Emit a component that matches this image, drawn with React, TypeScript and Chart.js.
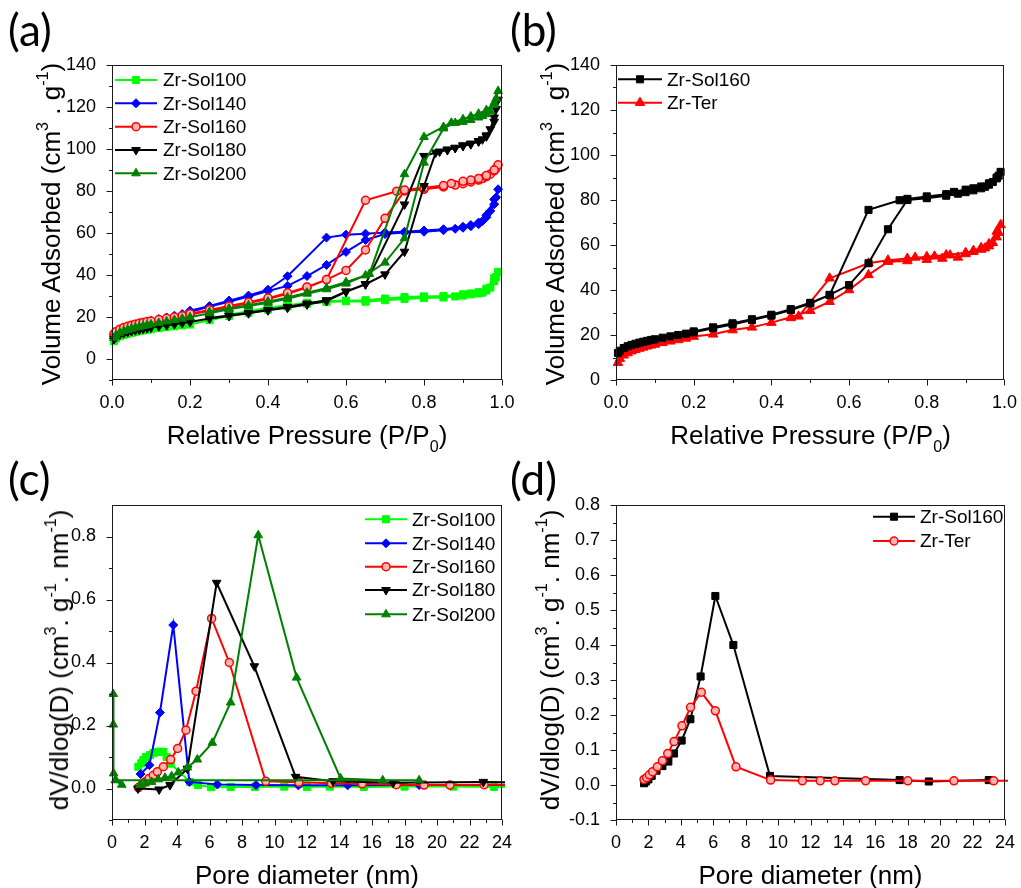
import React, { useEffect, useRef } from 'react';
import { Chart, registerables } from 'chart.js';
import { drawPoint } from 'chart.js/helpers';

Chart.register(...registerables);

const FONT = '"Liberation Sans", Arial, Helvetica, sans-serif';

// ---------- Panels (a)/(b): N2 isotherms, relative pressure ----------
const lowP = [0.005, 0.01, 0.02, 0.03, 0.04, 0.05, 0.06, 0.07, 0.08, 0.09, 0.1, 0.12, 0.14, 0.16, 0.18, 0.2];
const midP = [0.25, 0.3, 0.35, 0.4, 0.45, 0.5, 0.55, 0.6, 0.65, 0.7, 0.75, 0.8, 0.85, 0.88, 0.9, 0.92, 0.94, 0.95, 0.96, 0.97, 0.98, 0.985, 0.99];

const sol100LowV = [8.5, 9.8, 10.8, 11.5, 12.0, 12.5, 12.9, 13.3, 13.6, 13.9, 14.2, 14.7, 15.2, 15.6, 16.0, 16.4];
const sol100MidV = [18.5, 20.5, 22.0, 23.5, 25.0, 26.3, 27.2, 27.5, 27.3, 28.0, 28.6, 29.0, 29.3, 29.8, 30.2, 30.8, 31.2, 31.6, 32.6, 34.0, 37.0, 39.0, 41.5];
const sol100DesP = [0.98, 0.96, 0.94, 0.92, 0.9, 0.85, 0.8, 0.75, 0.7, 0.65, 0.6, 0.55, 0.5, 0.45, 0.4, 0.35, 0.3];
const sol100DesV = [38.5, 33.5, 31.8, 31.2, 30.8, 30.0, 29.8, 29.5, 28.8, 28.0, 27.8, 27.5, 26.8, 25.6, 24.4, 22.8, 21.2];

const sol140LowV = [11.5, 12.8, 14.0, 14.8, 15.4, 16.0, 16.5, 17.0, 17.4, 17.8, 18.2, 19.0, 19.8, 20.6, 21.4, 22.4];
const sol140MidV = [25.0, 27.3, 29.7, 32.4, 34.8, 39.5, 44.8, 51.0, 56.7, 59.5, 60.2, 60.6, 61.3, 62.0, 62.5, 63.2, 64.2, 65.7, 67.5, 70.5, 73.7, 77.0, 80.8];
const sol140DesP = [0.98, 0.96, 0.94, 0.92, 0.9, 0.85, 0.8, 0.75, 0.7, 0.65, 0.6, 0.55, 0.45, 0.4, 0.35, 0.3, 0.25, 0.2];
const sol140DesV = [76.0, 68.5, 65.0, 63.8, 63.0, 61.8, 61.2, 60.6, 60.2, 59.7, 59.2, 57.8, 39.4, 33.0, 30.2, 27.8, 25.2, 23.0];

const sol160LowV = [12.0, 13.0, 14.2, 15.0, 15.6, 16.1, 16.6, 17.0, 17.4, 17.8, 18.1, 18.8, 19.4, 20.0, 20.6, 21.2];
const sol160MidV = [23.0, 24.7, 26.7, 28.6, 31.1, 34.0, 37.8, 42.2, 51.9, 67.0, 80.0, 80.8, 81.9, 82.8, 83.5, 84.3, 85.2, 85.9, 86.8, 88.0, 89.6, 90.8, 92.5];
const sol160DesP = [0.98, 0.96, 0.94, 0.92, 0.9, 0.87, 0.85, 0.8, 0.75, 0.73, 0.65, 0.55, 0.5, 0.45, 0.4, 0.35, 0.3, 0.25, 0.2];
const sol160DesV = [90.0, 87.4, 86.0, 85.2, 84.6, 83.6, 82.6, 81.6, 80.5, 79.9, 75.6, 37.8, 34.3, 31.5, 29.0, 27.0, 25.2, 23.4, 21.6];

const sol180LowV = [9.5, 10.5, 11.6, 12.3, 12.8, 13.3, 13.7, 14.0, 14.4, 14.7, 15.0, 15.6, 16.1, 16.6, 17.1, 17.6];
const sol180MidP = [0.25, 0.3, 0.35, 0.4, 0.45, 0.5, 0.55, 0.6, 0.65, 0.7, 0.75, 0.8, 0.83, 0.86, 0.88, 0.9, 0.92, 0.94, 0.95, 0.96, 0.97, 0.98, 0.985, 0.99];
const sol180MidV = [19.3, 20.5, 21.8, 23.2, 24.4, 26.0, 27.6, 32.0, 35.6, 40.3, 51.1, 82.4, 98.3, 99.5, 100.5, 101.4, 102.3, 103.6, 104.6, 106.5, 109.4, 115.0, 119.0, 123.5];
const sol180DesP = [0.98, 0.96, 0.94, 0.92, 0.9, 0.88, 0.86, 0.84, 0.8, 0.75, 0.65, 0.6, 0.55, 0.5, 0.45, 0.4, 0.35, 0.3, 0.25];
const sol180DesV = [113.0, 106.0, 103.8, 102.6, 101.8, 100.6, 99.8, 98.8, 96.7, 73.6, 35.6, 32.2, 28.0, 26.4, 24.8, 23.4, 22.0, 20.7, 19.5];

const sol200LowV = [10.0, 11.2, 12.5, 13.3, 13.9, 14.4, 14.9, 15.3, 15.7, 16.1, 16.5, 17.2, 17.9, 18.6, 19.2, 19.9];
const sol200MidV = [21.8, 23.7, 25.2, 26.8, 28.7, 31.1, 33.2, 35.9, 39.8, 45.9, 57.5, 93.5, 109.8, 112.4, 112.9, 113.8, 115.0, 115.7, 116.6, 118.0, 121.0, 124.0, 127.6];
const sol200DesP = [0.98, 0.96, 0.94, 0.92, 0.9, 0.87, 0.85, 0.8, 0.75, 0.66, 0.6, 0.55, 0.5, 0.45, 0.4, 0.35, 0.3, 0.25];
const sol200DesV = [122.0, 118.5, 116.8, 115.5, 114.2, 112.5, 110.5, 105.7, 88.0, 40.5, 36.6, 33.8, 31.6, 29.3, 27.3, 25.6, 24.0, 22.4];

const terLowV = [7.7, 9.5, 11.0, 12.0, 12.8, 13.4, 14.0, 14.5, 15.0, 15.4, 15.8, 16.5, 17.2, 17.8, 18.5, 19.3];
const terMidP = [0.25, 0.3, 0.35, 0.4, 0.45, 0.5, 0.55, 0.6, 0.65, 0.7, 0.75, 0.77, 0.8, 0.82, 0.84, 0.86, 0.88, 0.9, 0.92, 0.94, 0.95, 0.96, 0.97, 0.98, 0.985, 0.99];
const terMidV = [20.3, 22.2, 23.4, 25.5, 27.9, 30.8, 34.8, 40.0, 46.7, 52.6, 52.9, 54.5, 53.5, 55.0, 54.0, 55.5, 54.5, 56.0, 57.0, 58.0, 58.6, 59.5, 61.0, 63.5, 65.5, 68.9];
const terDesP = [0.98, 0.96, 0.94, 0.92, 0.9, 0.85, 0.8, 0.75, 0.7, 0.65, 0.55, 0.47, 0.45];
const terDesV = [66.0, 60.5, 58.8, 57.5, 56.6, 55.6, 54.8, 54.0, 53.2, 51.9, 45.2, 28.3, 27.6];

// ---------- Panels (c)/(d): pore size distributions ----------
const sol100D = [1.62, 1.8, 1.93, 2.1, 2.34, 2.55, 2.75, 2.95, 3.16, 3.36, 3.61, 4.8, 5.3, 6.1, 7.3, 8.8, 10.6, 12.0, 13.4, 15.5, 18.0, 21.0, 23.5, 24.6];
const sol100PSD = [0.069, 0.08, 0.09, 0.1, 0.106, 0.112, 0.116, 0.117, 0.116, 0.1, 0.079, 0.021, 0.011, 0.004, 0.005, 0.005, 0.006, 0.005, 0.006, 0.005, 0.006, 0.006, 0.005, 0.005];
const sol140D = [1.76, 2.3, 2.95, 3.77, 4.76, 6.48, 8.86, 11.47, 14.5, 18.9, 24.6];
const sol140PSD = [0.046, 0.074, 0.241, 0.519, 0.021, 0.013, 0.011, 0.01, 0.01, 0.011, 0.011];
const sol160cD = [1.62, 1.83, 2.03, 2.28, 2.54, 2.79, 3.16, 3.61, 4.04, 4.55, 5.17, 6.13, 7.22, 9.46, 11.5, 13.5, 15.4, 17.5, 19.2, 20.8, 22.9, 24.6];
const sol160cPSD = [0.003, 0.011, 0.021, 0.032, 0.042, 0.053, 0.069, 0.092, 0.127, 0.185, 0.309, 0.54, 0.40, 0.023, 0.02, 0.017, 0.015, 0.012, 0.011, 0.011, 0.012, 0.012];
const sol180D = [1.6, 2.9, 3.57, 4.64, 6.44, 8.76, 11.3, 13.6, 17.3, 22.85, 24.6];
const sol180PSD = [0.0, -0.003, 0.011, 0.063, 0.653, 0.388, 0.037, 0.023, 0.018, 0.021, 0.02];
const sol200D = [0.08, 0.08, 0.1, 0.6, 0.2, 18.9, 16.66, 14.07, 11.36, 9.0, 7.3, 6.17, 5.25, 4.64, 4.08, 3.67, 3.26, 2.85, 2.44, 2.03, 1.72];
const sol200PSD = [0.30, 0.203, 0.048, 0.012, 0.026, 0.026, 0.026, 0.032, 0.352, 0.804, 0.273, 0.145, 0.092, 0.067, 0.051, 0.039, 0.034, 0.029, 0.021, 0.016, 0.011];

const sol160dD = [1.73, 1.85, 2.0, 2.2, 2.5, 2.86, 3.23, 3.58, 4.05, 4.59, 5.22, 6.13, 7.24, 9.5, 17.5, 19.3, 23.0];
const sol160dPSD = [0.005, 0.01, 0.016, 0.026, 0.041, 0.054, 0.067, 0.09, 0.127, 0.188, 0.31, 0.54, 0.40, 0.026, 0.014, 0.01, 0.014];
const terD = [1.73, 1.89, 2.06, 2.26, 2.55, 2.86, 3.19, 3.58, 4.07, 4.6, 5.26, 6.13, 7.4, 9.54, 11.5, 12.6, 13.5, 15.4, 18.0, 20.85, 23.3, 24.6];
const terPSD = [0.016, 0.021, 0.029, 0.038, 0.052, 0.069, 0.09, 0.124, 0.169, 0.222, 0.265, 0.212, 0.052, 0.014, 0.012, 0.012, 0.012, 0.012, 0.012, 0.012, 0.012, 0.012];

// ---------- tick values ----------
const pTicks = [0, 0.2, 0.4, 0.6, 0.8, 1.0];
const pMinor = [0.1, 0.3, 0.5, 0.7, 0.9];
const vTicksA = [0, 20, 40, 60, 80, 100, 120, 140];
const vMinorA = [-10, 10, 30, 50, 70, 90, 110, 130];
const vTicksB = [0, 20, 40, 60, 80, 100, 120, 140];
const vMinorB = [10, 30, 50, 70, 90, 110, 130];
const dTicks = [0, 2, 4, 6, 8, 10, 12, 14, 16, 18, 20, 22, 24];
const dMinor = [1, 3, 5, 7, 9, 11, 13, 15, 17, 19, 21, 23];
const psdTicksC = [0, 0.2, 0.4, 0.6, 0.8];
const psdMinorC = [-0.1, 0.1, 0.3, 0.5, 0.7];
const psdTicksD = [-0.1, 0, 0.1, 0.2, 0.3, 0.4, 0.5, 0.6, 0.7, 0.8];
const psdMinorD = [-0.05, 0.05, 0.15, 0.25, 0.35, 0.45, 0.55, 0.65, 0.75];

// ---------- styles ----------
type Sty = { color: string; fill: string; point: string; r: number; rot: number; bw: number };
const S100: Sty = { color: '#00ff00', fill: '#00ff00', point: 'rect', r: 5, rot: 0, bw: 1 };
const S140: Sty = { color: '#0000ff', fill: '#0000ff', point: 'rectRot', r: 4.5, rot: 0, bw: 1 };
const S160: Sty = { color: '#ff0000', fill: '#ffb4b4', point: 'circle', r: 4, rot: 0, bw: 1.5 };
const S180: Sty = { color: '#000000', fill: '#000000', point: 'triangle', r: 5, rot: 180, bw: 1 };
const S200: Sty = { color: '#008000', fill: '#008000', point: 'triangle', r: 5, rot: 0, bw: 1 };
const SB160: Sty = { color: '#000000', fill: '#000000', point: 'rect', r: 5, rot: 0, bw: 1 };
const SBTer: Sty = { color: '#ff0000', fill: '#ff0000', point: 'triangle', r: 5.5, rot: 0, bw: 1 };

function zip(xs: number[], ys: number[]) {
  const out: { x: number; y: number }[] = [];
  const n = Math.min(xs.length, ys.length);
  for (let i = 0; i < n; i++) out.push({ x: xs[i], y: ys[i] });
  return out;
}

function ds(label: string, pts: { x: number; y: number }[], s: Sty, order: number) {
  return {
    label,
    data: pts,
    showLine: true,
    borderColor: s.color,
    backgroundColor: s.fill,
    borderWidth: 2,
    pointStyle: s.point,
    pointRadius: s.r,
    pointRotation: s.rot,
    pointBackgroundColor: s.fill,
    pointBorderColor: s.color,
    pointBorderWidth: s.bw,
    order,
    clip: 3,
  };
}

const iso = (lowV: number[], mp: number[], mv: number[], dp: number[], dv: number[]) => [
  ...zip(lowP, lowV),
  ...zip(mp, mv),
  ...zip(dp, dv),
];

type Spec = {
  box: { x: number; y: number; w: number; h: number };
  area: { l: number; t: number; r: number; b: number };
  xr: [number, number];
  yr: [number, number];
  xMajor: number[];
  xMinor: number[];
  yMajor: number[];
  yMinor: number[];
  xFmt: (v: number) => string;
  yFmt: (v: number) => string;
  datasets: any[];
  legend: { x0: number; x1: number; tx: number; rows: number[] };
};

const f1 = (v: number) => Number(v).toFixed(1);
const f0 = (v: number) => String(Math.round(Number(v)));

const SPECS: Spec[] = [
  {
    box: { x: 0, y: 0, w: 530, h: 430 },
    area: { l: 112, t: 65, r: 502, b: 380 },
    xr: [0, 1],
    yr: [-10, 140],
    xMajor: pTicks, xMinor: pMinor, yMajor: vTicksA, yMinor: vMinorA,
    xFmt: f1, yFmt: f0,
    datasets: [
      ds('Zr-Sol100', iso(sol100LowV, midP, sol100MidV, sol100DesP, sol100DesV), S100, 4),
      ds('Zr-Sol140', iso(sol140LowV, midP, sol140MidV, sol140DesP, sol140DesV), S140, 3),
      ds('Zr-Sol160', iso(sol160LowV, midP, sol160MidV, sol160DesP, sol160DesV), S160, 2),
      ds('Zr-Sol180', iso(sol180LowV, sol180MidP, sol180MidV, sol180DesP, sol180DesV), S180, 1),
      ds('Zr-Sol200', iso(sol200LowV, midP, sol200MidV, sol200DesP, sol200DesV), S200, 0),
    ],
    legend: { x0: 115, x1: 157, tx: 163, rows: [80, 103.3, 126.7, 150, 173.3] },
  },
  {
    box: { x: 520, y: 0, w: 501, h: 430 },
    area: { l: 616, t: 65, r: 1005, b: 380 },
    xr: [0, 1],
    yr: [0, 140],
    xMajor: pTicks, xMinor: pMinor, yMajor: vTicksB, yMinor: vMinorB,
    xFmt: f1, yFmt: f0,
    datasets: [
      ds('Zr-Sol160', iso(sol160LowV, midP, sol160MidV, sol160DesP, sol160DesV), SB160, 0),
      ds('Zr-Ter', iso(terLowV, terMidP, terMidV, terDesP, terDesV), SBTer, 1),
    ],
    legend: { x0: 618, x1: 662, tx: 667, rows: [79.3, 102.7] },
  },
  {
    box: { x: 0, y: 455, w: 530, h: 433 },
    area: { l: 112, t: 505, r: 502, b: 820 },
    xr: [0, 24],
    yr: [-0.1, 0.9],
    xMajor: dTicks, xMinor: dMinor, yMajor: psdTicksC, yMinor: psdMinorC,
    xFmt: f0, yFmt: f1,
    datasets: [
      ds('Zr-Sol100', zip(sol100D, sol100PSD), S100, 4),
      ds('Zr-Sol140', zip(sol140D, sol140PSD), S140, 3),
      ds('Zr-Sol160', zip(sol160cD, sol160cPSD), S160, 2),
      ds('Zr-Sol180', zip(sol180D, sol180PSD), S180, 1),
      ds('Zr-Sol200', zip(sol200D, sol200PSD), S200, 0),
    ],
    legend: { x0: 365, x1: 407, tx: 412, rows: [519.3, 543.3, 566.7, 590, 614.3] },
  },
  {
    box: { x: 520, y: 455, w: 501, h: 433 },
    area: { l: 616, t: 505, r: 1005, b: 820 },
    xr: [0, 24],
    yr: [-0.1, 0.8],
    xMajor: dTicks, xMinor: dMinor, yMajor: psdTicksD, yMinor: psdMinorD,
    xFmt: f0, yFmt: f1,
    datasets: [
      ds('Zr-Sol160', zip(sol160dD, sol160dPSD), SB160, 1),
      ds('Zr-Ter', zip(terD, terPSD), S160, 0),
    ],
    legend: { x0: 873, x1: 915, tx: 920, rows: [516.7, 541] },
  },
];

const X_AXIS_H = 44;

function buildConfig(spec: Spec): any {
  const { box, area } = spec;
  const axesPlugin = {
    id: 'axesFrame',
    afterDraw(chart: any) {
      const ctx = chart.ctx;
      const a = chart.chartArea;
      const xs = chart.scales.x;
      const ys = chart.scales.y;
      ctx.save();
      ctx.strokeStyle = '#1a1a1a';
      ctx.lineWidth = 1;
      const L = Math.round(a.left) + 0.5;
      const R = Math.round(a.right) - 0.5;
      const T = Math.round(a.top) + 0.5;
      const B = Math.round(a.bottom) - 0.5;
      ctx.strokeRect(L, T, R - L, B - T);
      ctx.beginPath();
      spec.xMajor.forEach((v) => {
        const px = Math.round(xs.getPixelForValue(v)) + 0.5;
        ctx.moveTo(px, B);
        ctx.lineTo(px, B + 6);
      });
      spec.xMinor.forEach((v) => {
        const px = Math.round(xs.getPixelForValue(v)) + 0.5;
        ctx.moveTo(px, B);
        ctx.lineTo(px, B + 3.5);
      });
      spec.yMajor.forEach((v) => {
        const py = Math.round(ys.getPixelForValue(v)) + 0.5;
        ctx.moveTo(L, py);
        ctx.lineTo(L - 6, py);
      });
      spec.yMinor.forEach((v) => {
        const py = Math.round(ys.getPixelForValue(v)) + 0.5;
        ctx.moveTo(L, py);
        ctx.lineTo(L - 3.5, py);
      });
      ctx.stroke();
      ctx.restore();
    },
  };
  const legendPlugin = {
    id: 'insideLegend',
    afterDraw(chart: any) {
      const ctx = chart.ctx;
      const lg = spec.legend;
      ctx.save();
      chart.data.datasets.forEach((d: any, i: number) => {
        const y = lg.rows[i] - box.y;
        const x0 = lg.x0 - box.x;
        const x1 = lg.x1 - box.x;
        ctx.strokeStyle = d.borderColor;
        ctx.lineWidth = 2;
        ctx.beginPath();
        ctx.moveTo(x0, y);
        ctx.lineTo(x1, y);
        ctx.stroke();
        ctx.fillStyle = d.pointBackgroundColor;
        ctx.strokeStyle = d.pointBorderColor;
        ctx.lineWidth = d.pointBorderWidth;
        drawPoint(ctx, { pointStyle: d.pointStyle, rotation: d.pointRotation, radius: d.pointRadius, borderWidth: d.pointBorderWidth } as any, (x0 + x1) / 2, y);
        ctx.fillStyle = '#000';
        ctx.font = `19px ${FONT}`;
        ctx.textAlign = 'left';
        ctx.textBaseline = 'middle';
        ctx.fillText(d.label, lg.tx - box.x, y + 1);
      });
      ctx.restore();
    },
  };
  const tickFont = { family: FONT, size: 18 };
  return {
    type: 'scatter',
    data: { datasets: spec.datasets },
    options: {
      responsive: false,
      maintainAspectRatio: false,
      animation: false,
      events: [],
      layout: {
        padding: {
          left: 0,
          top: area.t - box.y,
          right: box.x + box.w - area.r,
          bottom: box.y + box.h - area.b - X_AXIS_H,
        },
      },
      plugins: { legend: { display: false }, tooltip: { enabled: false }, title: { display: false } },
      scales: {
        x: {
          type: 'linear',
          min: spec.xr[0],
          max: spec.xr[1],
          grid: { display: false },
          border: { display: false },
          ticks: { autoSkip: false, maxRotation: 0, padding: 4, color: '#000', font: tickFont, callback: (v: any) => spec.xFmt(v) },
          afterBuildTicks: (s: any) => { s.ticks = spec.xMajor.map((v) => ({ value: v })); },
          afterFit: (s: any) => { s.height = X_AXIS_H; },
        },
        y: {
          type: 'linear',
          min: spec.yr[0],
          max: spec.yr[1],
          grid: { display: false },
          border: { display: false },
          ticks: { autoSkip: false, padding: 8, color: '#000', font: tickFont, callback: (v: any) => spec.yFmt(v) },
          afterBuildTicks: (s: any) => { s.ticks = spec.yMajor.map((v) => ({ value: v })); },
          afterFit: (s: any) => { s.width = area.l - box.x; },
        },
      },
    },
    plugins: [axesPlugin, legendPlugin],
  };
}

function Panel({ spec }: { spec: Spec }) {
  const ref = useRef<HTMLCanvasElement>(null);
  useEffect(() => {
    if (!ref.current) return;
    const chart = new Chart(ref.current, buildConfig(spec));
    return () => chart.destroy();
  }, [spec]);
  return (
    <canvas
      ref={ref}
      width={spec.box.w}
      height={spec.box.h}
      style={{ position: 'absolute', left: spec.box.x, top: spec.box.y, width: spec.box.w, height: spec.box.h }}
    />
  );
}

const Sup = ({ c }: { c: string }) => (
  <span style={{ fontSize: '0.62em', position: 'relative', top: '-0.72em' }}>{c}</span>
);
const Sub = ({ c }: { c: string }) => (
  <span style={{ fontSize: '0.62em', position: 'relative', top: '0.5em' }}>{c}</span>
);

const TITLE_STYLE: React.CSSProperties = {
  position: 'absolute',
  left: 0,
  top: 0,
  whiteSpace: 'nowrap',
  fontFamily: FONT,
  fontSize: 26,
  lineHeight: '26px',
  color: '#000',
  transformOrigin: '0 0',
};

function XTitle({ cx, base, children }: { cx: number; base: number; children: any }) {
  return (
    <div style={{ position: 'absolute', left: cx, top: base, width: 0, height: 0 }}>
      <div style={{ ...TITLE_STYLE, transform: 'translate(-50%, -22px)' }}>{children}</div>
    </div>
  );
}

function YTitle({ bx, cy, children }: { bx: number; cy: number; children: any }) {
  return (
    <div style={{ position: 'absolute', left: bx, top: cy, width: 0, height: 0 }}>
      <div style={{ ...TITLE_STYLE, transform: 'rotate(-90deg) translate(-50%, -22px)' }}>{children}</div>
    </div>
  );
}

function PanelLabel({ x, y, t }: { x: number; y: number; t: string }) {
  return (
    <div style={{ position: 'absolute', left: x, top: y, fontFamily: 'Lato, "Open Sans", sans-serif', fontSize: 44, lineHeight: '44px', color: '#000', whiteSpace: 'nowrap' }}>
      {t}
    </div>
  );
}

export default function App() {
  const isoY = (
    <>
      Volume Adsorbed (cm<Sup c="3" /> . g<Sup c="-1" />)
    </>
  );
  const psdY = (
    <>
      dV/dlog(D) (cm<Sup c="3" />. g<Sup c="-1" />. nm<Sup c="-1" />)
    </>
  );
  const presX = (
    <>
      Relative Pressure (P/P<Sub c="0" />)
    </>
  );
  return (
    <div style={{ position: 'absolute', left: 0, top: 0, width: 1021, height: 888, background: '#fff', overflow: 'hidden' }}>
      {SPECS.map((s, i) => (
        <Panel key={i} spec={s} />
      ))}
      <XTitle cx={307} base={444}>{presX}</XTitle>
      <XTitle cx={810.5} base={444}>{presX}</XTitle>
      <XTitle cx={307} base={884}>Pore diameter (nm)</XTitle>
      <XTitle cx={810.5} base={884}>Pore diameter (nm)</XTitle>
      <YTitle bx={60} cy={224}>{isoY}</YTitle>
      <YTitle bx={564} cy={224}>{isoY}</YTitle>
      <YTitle bx={68} cy={660}>{psdY}</YTitle>
      <YTitle bx={559} cy={660}>{psdY}</YTitle>
      <PanelLabel x={8} y={7} t="(a)" />
      <PanelLabel x={510} y={7} t="(b)" />
      <PanelLabel x={8} y={456} t="(c)" />
      <PanelLabel x={510} y={456} t="(d)" />
    </div>
  );
}
